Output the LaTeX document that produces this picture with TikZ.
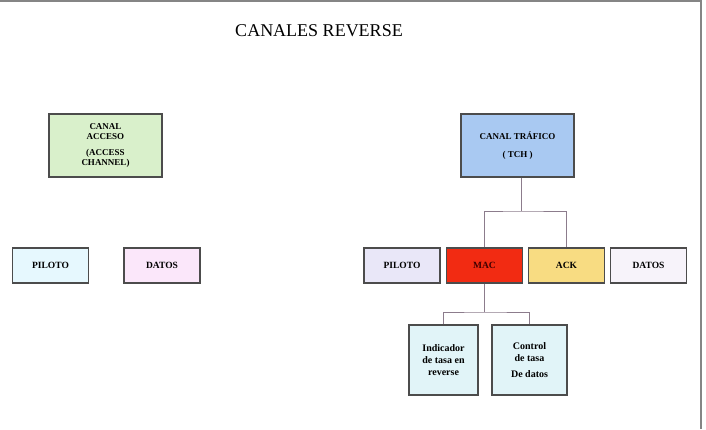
\documentclass[tikz,border=0pt]{standalone}
\usepackage{fontspec}
\setmainfont{Liberation Serif}
\usetikzlibrary{calc,positioning}

\begin{document}
\begin{tikzpicture}[
    x=1pt, y=-1pt,
    every node/.style={font=\fontsize{9.5}{10.5}\selectfont\bfseries},
    box/.style={draw=black!70, line width=1.1pt, fill=#1, minimum width=76pt, minimum height=35pt, inner sep=0pt, align=center},
    conn/.style={line width=1pt, draw=linea},
  ]
    \definecolor{acceso}{HTML}{D9F0CB}
    \definecolor{trafico}{HTML}{A9C9F2}
    \definecolor{pilotoA}{HTML}{E6F8FE}
    \definecolor{datosA}{HTML}{FBE7FA}
    \definecolor{pilotoB}{HTML}{E9E7F8}
    \definecolor{macred}{HTML}{F22B12}
    \definecolor{ackyel}{HTML}{F8DC82}
    \definecolor{datosB}{HTML}{F7F3FA}
    \definecolor{tasa}{HTML}{E1F4F8}
    \definecolor{linea}{HTML}{8C7C8C}
    \definecolor{marco}{HTML}{858585}

    \useasboundingbox (0,0) rectangle (706,429);
    \draw[marco, line width=2pt] (0,1) -- (701,1) -- (701,429);

    % title
    \node[font=\fontsize{18}{21}\selectfont] (titulo) at (319,31) {CANALES REVERSE};

    % access channel side
    \node[box=acceso, minimum width=113pt, minimum height=63pt, font=\fontsize{9}{10.5}\selectfont\bfseries] (acc) at (105.5,145.5)
      {CANAL\\ACCESO\\[5pt](ACCESS\\CHANNEL)};
    \node[box=pilotoA] (pilA) at (50.5,265.5) {PILOTO};
    \node[box=datosA] (datA) at (162,265.5) {DATOS};

    % traffic channel side
    \node[box=trafico, minimum width=113pt, minimum height=63pt, font=\fontsize{9}{10.5}\selectfont\bfseries] (tch) at (517.5,145.5)
      {CANAL TRÁFICO\\[7pt]( TCH )};
    \node[box=pilotoB] (pilB) at (402,265.5) {PILOTO};
    \node[box=macred, text=black!75!red] (mac) at (484.5,265.5) {MAC};
    \node[box=ackyel] (ack) at (566.5,265.5) {ACK};
    \node[box=datosB] (datB) at (648.5,265.5) {DATOS};

    % MAC sub-channels
    \node[box=tasa, minimum width=69pt, minimum height=70pt, font=\fontsize{10}{12}\selectfont\bfseries] (ind) at (443.5,360)
      {Indicador\\de tasa en\\reverse};
    \node[box=tasa, minimum width=75pt, minimum height=70pt, font=\fontsize{10}{12}\selectfont\bfseries] (ctl) at (529.5,360)
      {Control\\de tasa\\[4pt]De datos};

    % connectors
    \coordinate (bus1) at (521,211);
    \coordinate (bus2) at (484.5,312);
    \draw[conn] ([xshift=3.5pt]tch.south) -- (bus1);
    \draw[conn] (mac.north) |- (bus1) -| (ack.north);
    \draw[conn] (mac.south) -- (bus2);
    \draw[conn] (ind.north) |- (bus2) -| (ctl.north);
  \end{tikzpicture}
\end{document}
